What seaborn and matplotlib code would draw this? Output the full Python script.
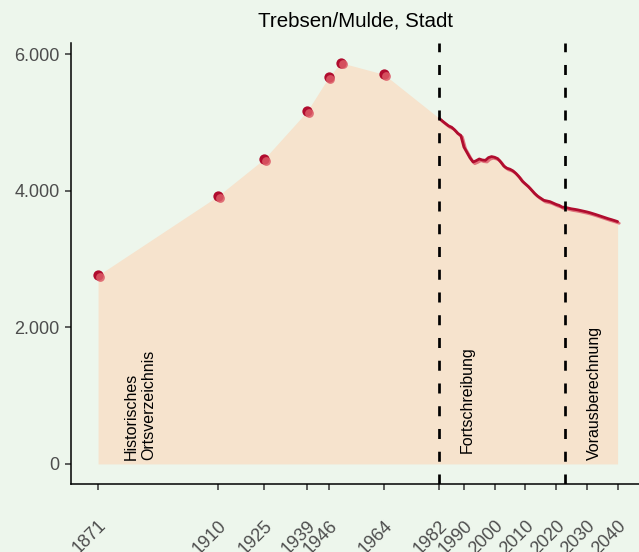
import matplotlib
matplotlib.use("Agg")
import matplotlib.pyplot as plt
import matplotlib.patheffects as pe
from matplotlib.transforms import ScaledTranslation
from matplotlib.ticker import FuncFormatter
import seaborn as sns
import pandas as pd
import numpy as np

# ---- data ----
title = "Trebsen/Mulde, Stadt"
hist_years = [1871, 1910, 1925, 1939, 1946, 1950, 1964]
hist_values = [2761, 3922, 4464, 5162, 5660, 5874, 5704]

line_years = list(range(1982, 2041))
line_values = [
    5060, 5020, 4985, 4950, 4930, 4890, 4840, 4810, 4640, 4560,   # 1982-1991
    4480, 4420, 4440, 4465, 4450, 4445, 4485, 4500, 4490, 4470,   # 1992-2001
    4420, 4360, 4330, 4315, 4290, 4250, 4200, 4140, 4100, 4060,   # 2002-2011
    4010, 3960, 3920, 3890, 3860, 3850, 3840, 3820, 3800, 3785,   # 2012-2021
    3760, 3757, 3745, 3735, 3728, 3720, 3710, 3700, 3690, 3678,   # 2022-2031
    3664, 3650, 3635, 3620, 3605, 3590, 3577, 3563, 3548,         # 2032-2040
]

tick_years = [1871, 1910, 1925, 1939, 1946, 1964, 1982, 1990, 2000, 2010, 2020, 2030, 2040]
y_ticks = [0, 2000, 4000, 6000]
phase_breaks = [1982, 2023]
phase_labels = ["Historisches\nOrtsverzeichnis", "Fortschreibung", "Vorausberechnung"]
phase_label_x = [1884.7, 1991.2, 2032.5]
phase_label_y = [63, 155, 53]

# ---- style ----
bg = "#edf6ec"
fill_col = "#f6e3cd"
dark_red = "#b00c2e"
pink = "#e0737c"

sns.set_theme(style="ticks")
plt.rcParams["font.family"] = ["Liberation Sans", "DejaVu Sans"]

fig = plt.figure(figsize=(6.39, 5.52), dpi=100, facecolor=bg)
ax = fig.add_axes([71 / 639, 68 / 552, (639 - 71) / 639, 441 / 552])
ax.set_facecolor(bg)

df_hist = pd.DataFrame({"year": hist_years, "value": hist_values})
df_line = pd.DataFrame({"year": line_years, "value": line_values})
df_all = pd.concat([df_hist, df_line], ignore_index=True)

# area
ax.fill_between(df_all["year"], 0, df_all["value"], color=fill_col, lw=0, zorder=1)

# dashed phase lines
for xb in phase_breaks:
    ax.axvline(xb, color="black", lw=1.95, ls=(0, (3.7, 4.7)), zorder=4)

# line with shadow
sns.lineplot(data=df_line, x="year", y="value", ax=ax, color=dark_red, lw=2.0,
             zorder=3)
ax.lines[-1].set_path_effects([pe.SimpleLineShadow(offset=(1.2, -1.2),
                                                   shadow_color=pink, alpha=1.0),
                               pe.Normal()])

# points: dark base + translucent pink offset
sns.scatterplot(data=df_hist, x="year", y="value", ax=ax, color=dark_red, s=55,
                linewidth=0, zorder=5)
sns.scatterplot(data=df_hist, x="year", y="value", ax=ax, color="#dc5a66", s=40,
                linewidth=0, alpha=0.85, zorder=6)
ax.collections[-1].set_offset_transform(
    ax.transData + ScaledTranslation(1.2 / 72, -1.2 / 72, fig.dpi_scale_trans))

# phase labels
for lx, ly, lt in zip(phase_label_x, phase_label_y, phase_labels):
    ax.text(lx, ly, lt, rotation=90, ha="center", va="bottom",
            multialignment="left", fontsize=11.5, color="black", zorder=7)

# axes
ax.set_xlim(1862.2, 2046.96)
ax.set_ylim(-294, 6163)
ax.set_xticks(tick_years)
ax.set_xticklabels([str(t) for t in tick_years], rotation=45, ha="right", va="top",
                   rotation_mode="anchor")
ax.set_yticks(y_ticks)
ax.yaxis.set_major_formatter(FuncFormatter(lambda v, _: f"{int(v):,}".replace(",", ".")))
ax.set_xlabel("")
ax.set_ylabel("")
ax.set_title(title, fontsize=14.8, color="black", pad=12)

for s in ["top", "right"]:
    ax.spines[s].set_visible(False)
for s in ["left", "bottom"]:
    ax.spines[s].set_color("black")
    ax.spines[s].set_linewidth(1.1)
ax.tick_params(axis="both", colors="#333333", length=4.3, width=1.1,
               labelcolor="#4d4d4d", labelsize=13)
ax.tick_params(axis="x", pad=19.5)
ax.tick_params(axis="y", pad=4)
ax.grid(False)

fig.savefig("out.png", dpi=100, facecolor=bg)
